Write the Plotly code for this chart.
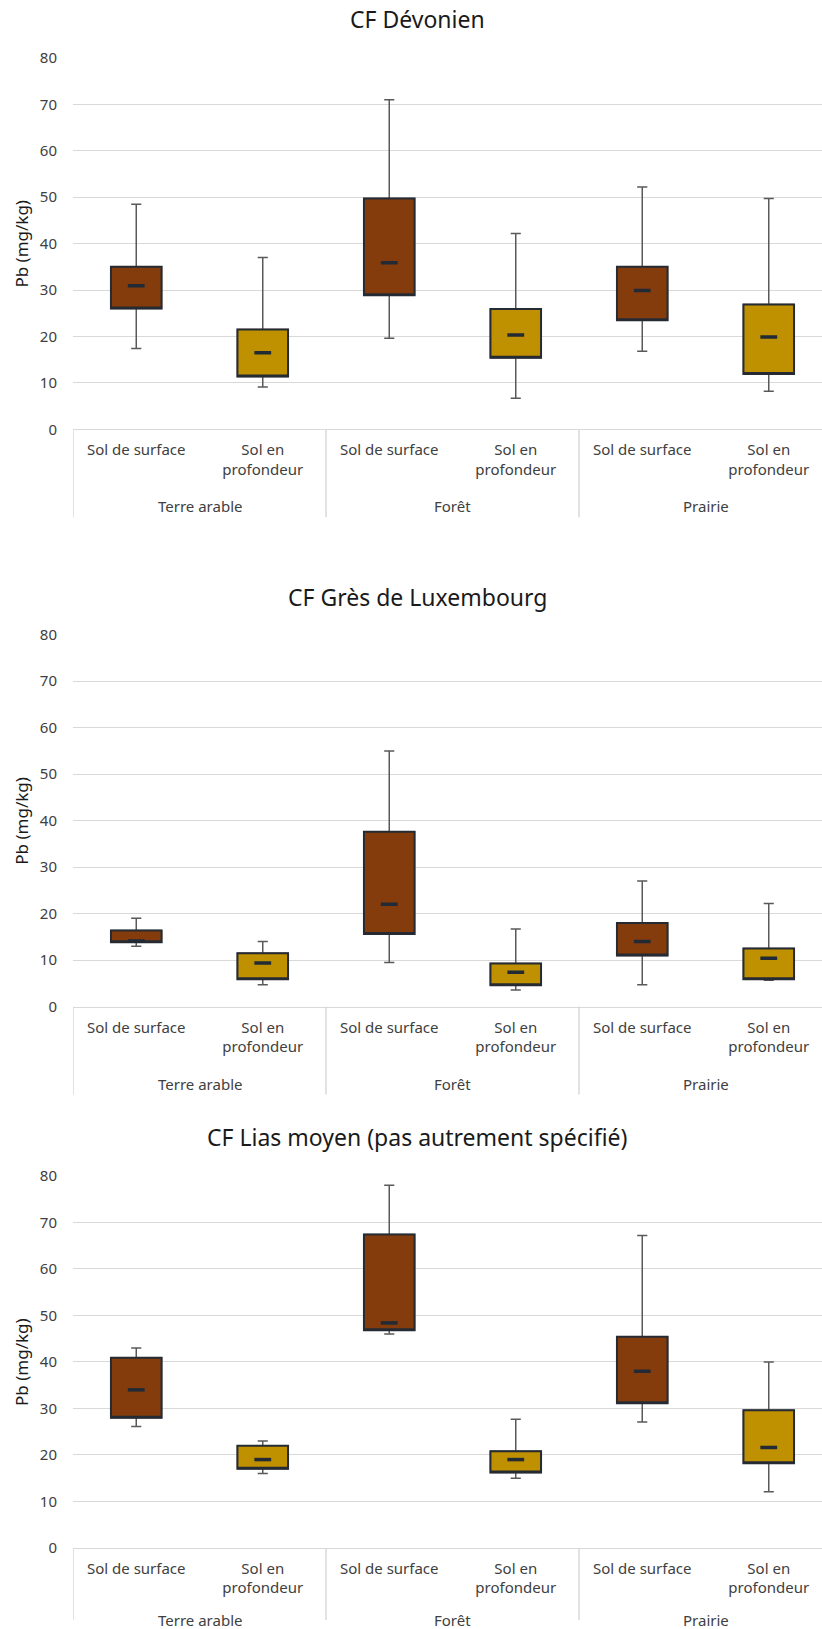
"""Pb box plots per soil type and land use for three lithological units."""

import plotly.graph_objects as go

# Categories
LAND_USES = ["Terre arable", "Forêt", "Prairie"]
DEPTHS = ["Sol de surface", "Sol en<br>profondeur"]
TITLES = [
    "CF Dévonien",
    "CF Grès de Luxembourg",
    "CF Lias moyen (pas autrement spécifié)",
]
Y_TITLE = "Pb (mg/kg)"
Y_TICKS = [0, 10, 20, 30, 40, 50, 60, 70, 80]

# Box statistics, order: Terre arable, Forêt, Prairie
# CF Dévonien
dev_surf_min = [17.4, 19.6, 16.8]
dev_surf_q1 = [26.0, 28.9, 23.5]
dev_surf_med = [30.9, 35.9, 29.9]
dev_surf_q3 = [35.0, 49.7, 35.0]
dev_surf_max = [48.5, 71.0, 52.2]
dev_prof_min = [9.1, 6.7, 8.2]
dev_prof_q1 = [11.4, 15.4, 11.9]
dev_prof_med = [16.5, 20.3, 19.9]
dev_prof_q3 = [21.5, 25.9, 26.9]
dev_prof_max = [37.0, 42.2, 49.7]

# CF Grès de Luxembourg
lux_surf_min = [13.0, 9.5, 4.7]
lux_surf_q1 = [13.85, 15.6, 11.0]
lux_surf_med = [14.1, 22.0, 14.0]
lux_surf_q3 = [16.4, 37.6, 18.0]
lux_surf_max = [19.0, 55.0, 27.0]
lux_prof_min = [4.7, 3.6, 5.7]
lux_prof_q1 = [5.9, 4.6, 5.9]
lux_prof_med = [9.4, 7.4, 10.4]
lux_prof_q3 = [11.5, 9.3, 12.5]
lux_prof_max = [14.0, 16.7, 22.2]

# CF Lias moyen
lias_surf_min = [26.1, 46.0, 27.1]
lias_surf_q1 = [28.0, 46.8, 31.1]
lias_surf_med = [34.0, 48.4, 38.0]
lias_surf_q3 = [40.9, 67.4, 45.4]
lias_surf_max = [43.0, 78.0, 67.2]
lias_prof_min = [16.0, 15.0, 12.1]
lias_prof_q1 = [17.0, 16.2, 18.2]
lias_prof_med = [19.0, 19.0, 21.6]
lias_prof_q3 = [22.0, 20.8, 29.6]
lias_prof_max = [23.0, 27.7, 40.0]

PANELS = [
    (
        (dev_surf_min, dev_surf_q1, dev_surf_med, dev_surf_q3, dev_surf_max),
        (dev_prof_min, dev_prof_q1, dev_prof_med, dev_prof_q3, dev_prof_max),
    ),
    (
        (lux_surf_min, lux_surf_q1, lux_surf_med, lux_surf_q3, lux_surf_max),
        (lux_prof_min, lux_prof_q1, lux_prof_med, lux_prof_q3, lux_prof_max),
    ),
    (
        (lias_surf_min, lias_surf_q1, lias_surf_med, lias_surf_q3, lias_surf_max),
        (lias_prof_min, lias_prof_q1, lias_prof_med, lias_prof_q3, lias_prof_max),
    ),
]

# Styling
_W, _H = 822, 1629
_FONT = "Noto Sans"
_BROWN = "#843C0C"
_GOLD = "#BF9000"
_BORDER = "#262B33"
_WHISKER = "#595959"
_MEDIAN = "#222A35"
_GRID = "#D9D9D9"
_TEXT = "#404040"

# pixel layout per panel: title centre, plot top (80), plot bottom (0),
# offset of the land-use label below the axis
_PANEL_PX = [
    (8, 47.5, 423.5, 78),
    (593, 631.5, 1008, 78),
    (1140, 1179.5, 1556, 73),
]
_PLOT_LEFT = 73
_UNIT_PX = 126.5  # one category slot in pixels


def _py(px: float) -> float:
    """Pixel row to paper y."""
    return 1 - px / _H


fig = go.Figure()
annotations = []
shapes = []
x_range = [0, (_W - _PLOT_LEFT) / _UNIT_PX]

for i, (panel, (title_px, top_px, bot_px, grp_off)) in enumerate(
    zip(PANELS, _PANEL_PX)
):
    n = i + 1
    xa = "x" if n == 1 else f"x{n}"
    ya = "y" if n == 1 else f"y{n}"
    for j, (stats, color) in enumerate(zip(panel, [_BROWN, _GOLD])):
        lo, q1, med, q3, hi = stats
        xs = [2 * k + 0.5 + j for k in range(len(LAND_USES))]
        # whiskers (gray) underneath
        fig.add_trace(
            go.Box(
                x=xs, q1=q1, median=med, q3=q3, lowerfence=lo, upperfence=hi,
                width=0.4, whiskerwidth=0.2, boxpoints=False,
                fillcolor="rgba(0,0,0,0)",
                line={"color": _WHISKER, "width": 1.5},
                xaxis=xa, yaxis=ya, hoverinfo="skip", showlegend=False,
            )
        )
        # filled box on top, collapsed whiskers
        fig.add_trace(
            go.Box(
                x=xs, q1=q1, median=q1, q3=q3, lowerfence=q1, upperfence=q3,
                width=0.4, whiskerwidth=0, boxpoints=False,
                fillcolor=color,
                line={"color": _BORDER, "width": 2},
                xaxis=xa, yaxis=ya, hoverinfo="skip", showlegend=False,
            )
        )
        # short median dash
        fig.add_trace(
            go.Scatter(
                x=xs, y=med, mode="markers",
                marker={
                    "symbol": "line-ew", "size": 12,
                    "line": {"color": _MEDIAN, "width": 3.5},
                },
                xaxis=xa, yaxis=ya, hoverinfo="skip", showlegend=False,
            )
        )

    dom = [_py(bot_px), _py(top_px)]
    fig.update_layout(
        {
            f"xaxis{'' if n == 1 else n}": {
                "domain": [_PLOT_LEFT / _W, 1],
                "range": x_range,
                "anchor": ya,
                "tickvals": [0.5, 1.5, 2.5, 3.5, 4.5, 5.5],
                "ticktext": DEPTHS * len(LAND_USES),
                "ticks": "outside",
                "ticklen": 7,
                "tickcolor": "rgba(0,0,0,0)",
                "tickfont": {"family": _FONT, "size": 15, "color": _TEXT},
                "showgrid": False,
                "zeroline": False,
                "showline": True,
                "linecolor": _GRID,
                "linewidth": 1,
                "fixedrange": True,
            },
            f"yaxis{'' if n == 1 else n}": {
                "domain": dom,
                "range": [0, 80],
                "anchor": xa,
                "tickvals": Y_TICKS,
                "ticks": "outside",
                "ticklen": 12,
                "tickcolor": "rgba(0,0,0,0)",
                "tickfont": {"family": _FONT, "size": 15, "color": _TEXT},
                "showgrid": True,
                "gridcolor": _GRID,
                "gridwidth": 1,
                "zeroline": False,
                "showline": False,
                "fixedrange": True,
            },
        }
    )

    annotations.append(
        {
            "text": TITLES[i], "xref": "paper", "yref": "paper",
            "x": 417 / _W, "y": _py(title_px), "xanchor": "center",
            "yanchor": "middle", "showarrow": False,
            "font": {"family": _FONT, "size": 23, "color": "#1a1a1a"},
        }
    )
    annotations.append(
        {
            "text": Y_TITLE, "xref": "paper", "yref": "paper",
            "x": 22 / _W, "y": _py((top_px + bot_px) / 2), "xanchor": "center",
            "yanchor": "middle", "textangle": -90, "showarrow": False,
            "font": {"family": _FONT, "size": 17, "color": "#1a1a1a"},
        }
    )
    for k, name in enumerate(LAND_USES):
        annotations.append(
            {
                "text": name, "xref": xa, "yref": "paper",
                "x": 2 * k + 1, "y": _py(bot_px + grp_off), "xanchor": "center",
                "yanchor": "middle", "showarrow": False,
                "font": {"family": _FONT, "size": 15, "color": _TEXT},
            }
        )
        shapes.append(
            {
                "type": "line", "xref": xa, "yref": "paper",
                "x0": 2 * k, "x1": 2 * k,
                "y0": _py(bot_px), "y1": max(_py(bot_px + 89), 0),
                "line": {"color": _GRID, "width": 1.5},
            }
        )

fig.update_layout(
    width=_W,
    height=_H,
    margin={"l": 0, "r": 0, "t": 0, "b": 0},
    paper_bgcolor="white",
    plot_bgcolor="white",
    boxmode="overlay",
    showlegend=False,
    annotations=annotations,
    shapes=shapes,
    font={"family": _FONT},
)

fig.write_html(
    "out.html",
    config={"displayModeBar": False},
    post_script="document.body.style.margin='0';document.body.style.overflow='hidden';",
)
